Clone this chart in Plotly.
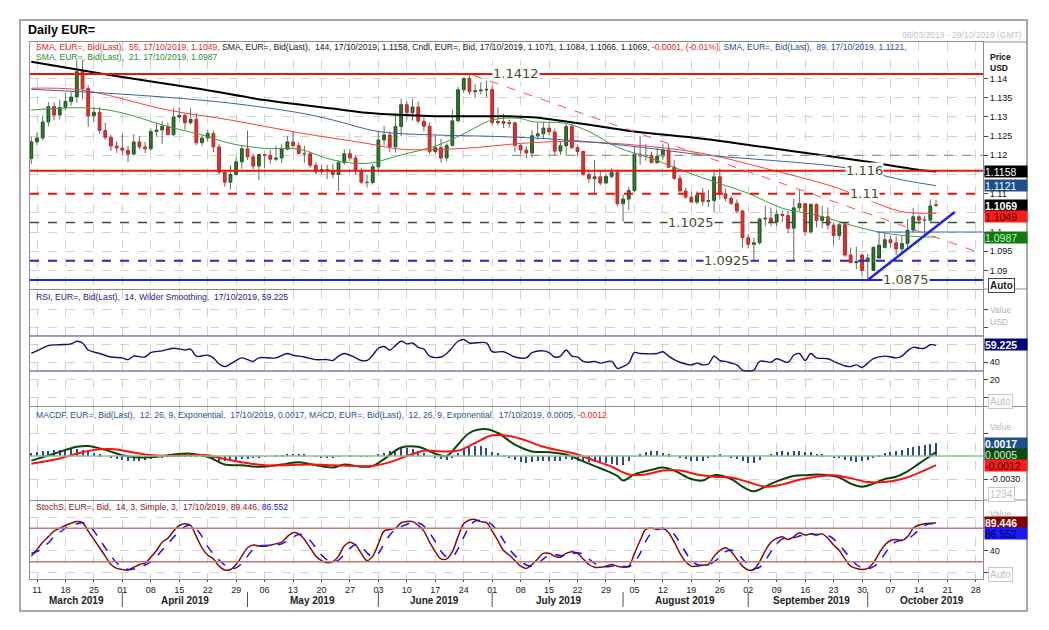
import pandas as pd
import plotly.graph_objects as go
from plotly.subplots import make_subplots

# ---------------- data ----------------
axis_days = pd.bdate_range("2019-03-08", "2019-10-29")
n_days = 160
dates = list(axis_days[:n_days])

open_ = [1.1192,1.1235,1.1245,1.1287,1.1327,1.1305,1.1325,1.1340,1.1352,1.1418,
         1.1374,1.1303,1.1312,1.1265,1.1247,1.1224,1.1219,1.1213,1.1203,1.1235,
         1.1222,1.1217,1.1262,1.1266,1.1275,1.1254,1.1300,1.1304,1.1285,1.1294,
         1.1233,1.1245,1.1257,1.1222,1.1156,1.1130,1.1150,1.1183,1.1217,1.1196,
         1.1172,1.1202,1.1200,1.1190,1.1193,1.1216,1.1235,1.1225,1.1205,1.1204,
         1.1174,1.1157,1.1163,1.1160,1.1150,1.1181,1.1204,1.1193,1.1160,1.1130,
         1.1129,1.1170,1.1240,1.1253,1.1222,1.1275,1.1332,1.1311,1.1326,1.1289,
         1.1276,1.1210,1.1220,1.1193,1.1226,1.1290,1.1371,1.1400,1.1366,1.1368,
         1.1370,1.1372,1.1285,1.1288,1.1283,1.1285,1.1226,1.1214,1.1206,1.1251,
         1.1256,1.1271,1.1261,1.1211,1.1225,1.1275,1.1220,1.1210,1.1150,1.1139,
         1.1144,1.1128,1.1145,1.1155,1.1074,1.1086,1.1108,1.1203,1.1198,1.1200,
         1.1181,1.1198,1.1214,1.1169,1.1140,1.1107,1.1091,1.1078,1.1096,1.1080,
         1.1082,1.1144,1.1100,1.1088,1.1075,1.1055,1.0985,1.0968,1.0972,1.1034,
         1.1036,1.1026,1.1046,1.1043,1.1010,1.1063,1.1074,1.1001,1.1072,1.1030,
         1.1040,1.1018,1.0991,1.1019,1.0940,1.0920,1.0940,1.0923,1.0900,1.0932,
         1.0960,1.0980,1.0972,1.0956,1.0970,1.1005,1.1040,1.1031,1.1031,1.1071]
high = [1.1248,1.1259,1.1304,1.1339,1.1338,1.1345,1.1362,1.1366,1.1448,1.1448,
        1.1383,1.1327,1.1326,1.1285,1.1254,1.1237,1.1255,1.1225,1.1255,1.1250,
        1.1235,1.1270,1.1285,1.1289,1.1285,1.1324,1.1325,1.1309,1.1323,1.1310,
        1.1252,1.1267,1.1265,1.1230,1.1162,1.1174,1.1195,1.1225,1.1265,1.1205,
        1.1200,1.1205,1.1214,1.1225,1.1228,1.1251,1.1264,1.1235,1.1225,1.1210,
        1.1183,1.1175,1.1175,1.1178,1.1187,1.1215,1.1216,1.1200,1.1168,1.1150,
        1.1177,1.1264,1.1277,1.1262,1.1309,1.1348,1.1340,1.1347,1.1340,1.1300,
        1.1285,1.1252,1.1243,1.1231,1.1319,1.1378,1.1403,1.1412,1.1385,1.1391,
        1.1394,1.1381,1.1325,1.1309,1.1293,1.1287,1.1230,1.1224,1.1266,1.1285,
        1.1287,1.1286,1.1270,1.1236,1.1282,1.1282,1.1228,1.1213,1.1163,1.1188,
        1.1160,1.1150,1.1167,1.1162,1.1098,1.1118,1.1224,1.1250,1.1230,1.1210,
        1.1222,1.1230,1.1230,1.1188,1.1148,1.1116,1.1105,1.1106,1.1115,1.1110,
        1.1162,1.1165,1.1113,1.1094,1.1085,1.1058,1.0995,1.0985,1.1038,1.1068,
        1.1064,1.1058,1.1055,1.1055,1.1087,1.1109,1.1074,1.1075,1.1075,1.1068,
        1.1064,1.1025,1.1025,1.1025,1.0960,1.0962,1.0945,1.0943,1.0963,1.0998,
        1.0999,1.0990,1.0989,1.0990,1.1034,1.1063,1.1045,1.1043,1.1085,1.1084]
low = [1.1177,1.1226,1.1240,1.1275,1.1291,1.1294,1.1318,1.1330,1.1337,1.1346,
       1.1274,1.1287,1.1256,1.1240,1.1212,1.1206,1.1202,1.1183,1.1200,1.1215,
       1.1205,1.1212,1.1248,1.1230,1.1253,1.1250,1.1296,1.1267,1.1280,1.1226,
       1.1225,1.1235,1.1208,1.1150,1.1118,1.1111,1.1148,1.1165,1.1188,1.1163,
       1.1136,1.1167,1.1177,1.1185,1.1180,1.1213,1.1220,1.1201,1.1180,1.1168,
       1.1150,1.1150,1.1138,1.1140,1.1107,1.1175,1.1185,1.1150,1.1125,1.1116,
       1.1124,1.1162,1.1226,1.1209,1.1207,1.1250,1.1293,1.1290,1.1283,1.1262,
       1.1203,1.1204,1.1181,1.1184,1.1223,1.1286,1.1362,1.1358,1.1349,1.1358,
       1.1352,1.1277,1.1278,1.1271,1.1272,1.1208,1.1203,1.1193,1.1194,1.1241,
       1.1244,1.1253,1.1200,1.1201,1.1202,1.1216,1.1200,1.1147,1.1127,1.1101,
       1.1122,1.1124,1.1140,1.1067,1.1027,1.1058,1.1104,1.1175,1.1186,1.1179,
       1.1177,1.1188,1.1166,1.1136,1.1103,1.1087,1.1077,1.1072,1.1069,1.1065,
       1.1051,1.1085,1.1080,1.1070,1.1048,1.0960,1.0958,1.0926,1.0967,1.1015,
       1.1015,1.1015,1.1025,1.0997,1.0927,1.1055,1.0990,1.0995,1.1012,1.1010,
       1.1007,1.0965,1.0980,1.0935,1.0920,1.0903,1.0885,1.0879,1.0920,1.0939,
       1.0957,1.0960,1.0940,1.0944,1.0960,1.1000,1.1020,1.0993,1.1027,1.1066]
close = [1.1235,1.1245,1.1287,1.1327,1.1305,1.1325,1.1340,1.1352,1.1418,1.1374,
         1.1303,1.1312,1.1265,1.1247,1.1224,1.1219,1.1213,1.1203,1.1235,1.1222,
         1.1217,1.1262,1.1266,1.1275,1.1254,1.1300,1.1304,1.1285,1.1294,1.1233,
         1.1245,1.1257,1.1222,1.1156,1.1130,1.1150,1.1183,1.1217,1.1196,1.1172,
         1.1202,1.1200,1.1190,1.1193,1.1216,1.1235,1.1225,1.1205,1.1204,1.1174,
         1.1157,1.1163,1.1160,1.1150,1.1181,1.1204,1.1193,1.1160,1.1130,1.1129,
         1.1170,1.1240,1.1253,1.1222,1.1275,1.1332,1.1311,1.1326,1.1289,1.1276,
         1.1210,1.1220,1.1193,1.1226,1.1290,1.1371,1.1400,1.1366,1.1368,1.1370,
         1.1372,1.1285,1.1288,1.1283,1.1285,1.1226,1.1214,1.1206,1.1251,1.1256,
         1.1271,1.1261,1.1211,1.1225,1.1275,1.1220,1.1210,1.1150,1.1139,1.1144,
         1.1128,1.1145,1.1155,1.1074,1.1086,1.1108,1.1203,1.1198,1.1200,1.1181,
         1.1198,1.1214,1.1169,1.1140,1.1107,1.1091,1.1078,1.1096,1.1080,1.1082,
         1.1144,1.1100,1.1088,1.1075,1.1055,1.0985,1.0968,1.0972,1.1034,1.1036,
         1.1026,1.1046,1.1043,1.1010,1.1063,1.1074,1.1001,1.1072,1.1030,1.1040,
         1.1018,1.0991,1.1019,1.0940,1.0920,1.0923,1.0900,1.0932,1.0960,1.0966,
         1.0980,1.0972,1.0956,1.0970,1.1005,1.1040,1.1031,1.1031,1.1068,1.1069]

# moving averages (trading-day index, value)
sma21_idx = [0,9,15,24,30,35,41,47,53,59,65,71,76,81,86,88,94,98,103,109,115,120,126,132,138,144,150,156,159]
sma21_val = [1.1318,1.1324,1.1314,1.1275,1.1253,1.1231,1.1218,1.1216,1.1188,1.1179,1.1201,1.1224,1.1256,1.1292,1.1296,
             1.1288,1.1283,1.1262,1.1221,1.1192,1.1157,1.1131,1.1101,1.1062,1.1044,1.1018,1.0997,1.0988,1.0987]
sma55_idx = [0,9,24,35,47,59,65,76,86,94,106,118,129,141,147,153,159]
sma55_val = [1.1375,1.1370,1.1318,1.1292,1.1259,1.1231,1.1216,1.1218,1.1231,1.1236,1.1227,1.1205,1.1166,1.1118,1.1084,1.1053,1.1049]
sma89_idx = [0,12,24,35,47,53,61,71,82,94,106,118,129,141,147,153,159]
sma89_val = [1.1372,1.1363,1.1351,1.1336,1.1311,1.1292,1.1262,1.1253,1.1249,1.1240,1.1223,1.1201,1.1188,1.1172,1.1157,1.1136,1.1121]
sma144_idx = [0,14,30,41,53,59,71,82,88,100,106,118,129,141,147,156,159]
sma144_val = [1.1444,1.1409,1.1372,1.1344,1.1322,1.1311,1.1302,1.1302,1.1299,1.1275,1.1262,1.1243,1.1221,1.1196,1.1183,1.1162,1.1158]

# RSI (14, Wilder)
rsi_idx = [0,2,3,5,7,8,9,10,12,14,16,17,18,20,21,23,25,27,28,29,31,32,33,34,35,37,38,39,40,43,45,46,48,50,52,53,54,55,57,58,59,60,
           61,62,63,64,65,66,67,68,69,70,72,73,74,75,76,77,80,81,83,85,87,88,90,91,92,93,94,95,96,97,98,99,100,102,103,104,105,
           106,107,110,111,112,113,114,115,116,117,118,119,120,121,122,123,124,125,126,127,128,130,131,133,134,135,136,137,138,
           140,141,143,144,145,146,147,148,150,152,153,154,155,156,157,158,159]
rsi_val = [50,56,59,60,61,64,62,54,50,46,45,43,47,46,51,53,56,54,55,47,48,45,38,35,38,45,43,41,45,45,50,48,46,43,43,42,47,50,45,42,42,48,
           56,58,54,59,64,61,62,57,55,47,46,50,57,64,66,62,62,52,52,46,45,51,53,51,46,47,54,47,46,41,40,41,39,41,33,35,39,
           51,50,50,52,47,43,40,38,37,39,37,38,47,42,41,39,37,31,30,31,41,40,44,40,48,50,42,50,45,
           44,41,36,35,37,34,39,44,47,45,47,53,57,56,56,60,59.225]

# MACD (12, 26, 9)
macd_idx = [0,4,8,10,13,16,19,22,25,28,31,34,37,40,44,47,50,53,55,58,60,62,65,68,71,73,75,77,80,82,85,88,91,94,97,100,103,104,106,
            109,111,113,116,118,120,123,125,127,129,131,134,136,138,140,142,144,146,148,150,152,154,156,158,159]
macd_val = [-0.0006,0.0003,0.0012,0.0013,0.0008,0.0001,-0.0002,-0.0001,0.0002,0.0003,-0.0001,-0.0011,-0.0012,-0.0014,-0.0011,-0.0008,
            -0.0012,-0.0015,-0.0011,-0.0014,-0.0013,-0.0004,0.0011,0.0012,0.0003,0.0000,0.0015,0.0030,0.0035,0.0030,0.0015,0.0006,0.0005,
            0.0002,-0.0007,-0.0016,-0.0026,-0.0032,-0.0024,-0.0018,-0.0015,-0.0019,-0.0030,-0.0032,-0.0025,-0.0030,-0.0040,-0.0046,-0.0040,
            -0.0033,-0.0026,-0.0025,-0.0024,-0.0025,-0.0028,-0.0036,-0.0040,-0.0036,-0.0030,-0.0027,-0.0020,-0.0010,0.0000,0.0005]
signal_idx = [0,4,8,11,14,17,20,24,28,31,34,37,41,45,49,53,57,60,63,66,69,72,75,78,81,84,87,90,93,96,99,102,105,108,111,114,117,
              120,123,126,129,132,135,138,141,144,147,150,153,156,159]
signal_val = [-0.0010,-0.0005,0.0003,0.0008,0.0009,0.0006,0.0002,0.0000,0.0001,0.0001,-0.0004,-0.0008,-0.0012,-0.0012,-0.0011,-0.0012,
              -0.0013,-0.0013,-0.0008,0.0000,0.0007,0.0006,0.0007,0.0017,0.0027,0.0026,0.0020,0.0012,0.0007,0.0002,-0.0006,-0.0014,
              -0.0024,-0.0024,-0.0019,-0.0019,-0.0024,-0.0027,-0.0028,-0.0034,-0.0040,-0.0037,-0.0031,-0.0027,-0.0025,-0.0029,-0.0034,
              -0.0034,-0.0030,-0.0022,-0.0012]
macd_hist = [0.0004,0.0005,0.0006,0.0007,0.0008,0.0008,0.0008,0.0009,0.0009,0.0008,
             0.0006,0.0004,0.0002,0.0000,-0.0002,-0.0004,-0.0005,-0.0006,-0.0007,-0.0006,
             -0.0005,-0.0004,-0.0003,-0.0002,-0.0001,0.0002,0.0002,0.0002,0.0002,0.0001,
             -0.0001,-0.0002,-0.0004,-0.0006,-0.0007,-0.0006,-0.0005,-0.0004,-0.0004,-0.0003,
             -0.0002,-0.0001,0.0000,0.0001,0.0001,0.0003,0.0003,0.0003,0.0002,0.0000,
             -0.0001,-0.0002,-0.0003,-0.0003,-0.0001,0.0000,0.0001,0.0000,-0.0001,-0.0001,
             0.0000,0.0003,0.0004,0.0006,0.0008,0.0010,0.0010,0.0009,0.0007,0.0004,
             0.0000,-0.0003,-0.0004,-0.0005,-0.0002,0.0004,0.0009,0.0012,0.0013,0.0013,
             0.0011,0.0005,0.0004,0.0001,-0.0002,-0.0005,-0.0008,-0.0009,-0.0008,-0.0007,
             -0.0006,-0.0006,-0.0007,-0.0006,-0.0004,-0.0005,-0.0006,-0.0007,-0.0008,-0.0008,
             -0.0009,-0.0009,-0.0010,-0.0012,-0.0012,-0.0006,-0.0001,0.0002,0.0005,0.0006,
             0.0006,0.0004,0.0002,0.0000,-0.0002,-0.0004,-0.0006,-0.0007,-0.0006,-0.0003,
             0.0001,0.0002,0.0000,-0.0002,-0.0004,-0.0007,-0.0009,-0.0009,-0.0005,0.0000,
             0.0003,0.0005,0.0006,0.0005,0.0006,0.0007,0.0005,0.0005,0.0003,0.0002,
             0.0000,-0.0002,-0.0003,-0.0005,-0.0007,-0.0008,-0.0007,-0.0005,-0.0002,0.0001,
             0.0004,0.0005,0.0006,0.0008,0.0010,0.0012,0.0013,0.0014,0.0016,0.0017]

# Slow stochastic (14, 3, 3)
stoch_k = [30,42,55,65,75,80,85,89,92,90, 75,60,45,30,15,8,6,5,10,15, 18,28,40,55,62,75,85,88,85,65,
           45,32,25,12,5,6,15,30,45,50, 48,48,50,52,55,65,72,70,60,45, 30,22,18,20,30,48,55,50,35,22,
           30,52,75,78,80,90,92,92,85,75, 55,38,25,25,38,65,88,95,96,92, 90,75,58,40,32,22,12,8,15,25,
           35,35,30,28,35,38,35,25,15,10, 10,12,15,12,10,12,35,58,78,80, 78,80,72,55,35,20,12,12,14,15,
           30,40,45,38,25,12,5,6,20,40, 55,62,65,60,65,72,68,70,68,70, 62,50,40,25,12,8,6,8,18,35,
           50,58,60,58,65,80,86,88,89,89.446]
stoch_d = [35,38,45,54,65,73,80,85,88,90, 86,75,60,45,30,18,10,6,7,10, 14,20,29,41,52,64,74,83,86,79,
           65,47,34,23,14,8,9,17,30,42, 48,49,49,50,52,57,64,69,67,58, 45,32,23,20,23,33,44,51,47,36,
           29,35,52,68,78,83,87,91,90,84, 72,56,39,29,29,43,64,83,93,94, 93,86,74,58,43,31,22,14,12,16,
           25,32,33,31,31,34,36,33,25,17, 12,11,12,13,12,11,19,35,57,72, 79,79,77,69,54,37,22,15,13,14,
           20,28,38,41,36,25,14,8,10,22, 38,52,61,62,63,66,68,70,69,69, 67,61,51,38,26,15,9,7,11,20,
           34,48,56,59,61,68,77,85,88,86.552]

day_labels = ["11","18","25","01","08","15","22","29","06","13","20","27","03","10","17","24","01",
              "08","15","22","29","05","12","19","26","02","09","16","23","30","07","14","21","28"]
month_labels = ["March 2019","April 2019","May 2019","June 2019","July 2019","August 2019","September 2019","October 2019"]
price_ticks = [1.09,1.095,1.10,1.105,1.11,1.115,1.12,1.125,1.13,1.135,1.14]
price_ticktext = ["1.09","1.095","1.1","","1.11","","1.12","1.125","1.13","1.135","1.14"]

# ---------------- geometry helpers ----------------
W, H = 1049, 630
ML, MR, MT, MB = 30, 66, 42, 51
PW, PH = W - ML - MR, H - MT - MB
def fy(py):  # pixel y -> paper
    return (H - MB - py) / PH
def fx(px):  # pixel x -> paper
    return (px - ML) / PW

x = list(range(n_days))
mondays = [i for i, d in enumerate(axis_days) if d.weekday() == 0]
month_start = [i for i in range(1, len(axis_days)) if axis_days[i].month != axis_days[i - 1].month]
month_pos = [8.0, 27.0, 49.5, 70.8, 92.6, 114.9, 137.2, 158.3]
XR = [-0.23, 167.26]

FONT = "Liberation Sans, Arial, sans-serif"
NARROW = "Liberation Sans Narrow, Liberation Sans, Arial, sans-serif"
HDR = 8.6

fig = make_subplots(rows=4, cols=1, shared_xaxes=True, vertical_spacing=0.0)

# wicks
wx, wy = [], []
for i in x:
    wx += [i, i, None]
    wy += [low[i], high[i], None]
fig.add_trace(go.Scatter(x=wx, y=wy, mode="lines", line=dict(color="#6a6a6a", width=1),
                         hoverinfo="skip", showlegend=False), row=1, col=1)
body_hi = [max(o, c) for o, c in zip(open_, close)]
body_lo = [min(o, c) for o, c in zip(open_, close)]
fig.add_trace(go.Candlestick(x=x, open=open_, high=body_hi, low=body_lo, close=close,
                             increasing=dict(line=dict(color="#0c5c0c", width=1), fillcolor="#0c6a0c"),
                             decreasing=dict(line=dict(color="#f01010", width=1), fillcolor="#ff1414"),
                             whiskerwidth=0, showlegend=False), row=1, col=1)
fig.add_trace(go.Scatter(x=sma21_idx, y=sma21_val, mode="lines", line=dict(color="#3c9c3c", width=1, shape="spline"), showlegend=False), row=1, col=1)
fig.add_trace(go.Scatter(x=sma55_idx, y=sma55_val, mode="lines", line=dict(color="#ff3c3c", width=1, shape="spline"), showlegend=False), row=1, col=1)
fig.add_trace(go.Scatter(x=sma89_idx, y=sma89_val, mode="lines", line=dict(color="#3a64a0", width=1, shape="spline"), showlegend=False), row=1, col=1)
fig.add_trace(go.Scatter(x=sma144_idx, y=sma144_val, mode="lines", line=dict(color="#000000", width=2, shape="spline"), showlegend=False), row=1, col=1)

fig.add_trace(go.Scatter(x=rsi_idx, y=rsi_val, mode="lines", line=dict(color="#10107a", width=1.4, shape="spline"), showlegend=False), row=2, col=1)

fig.add_trace(go.Bar(x=x, y=macd_hist, width=0.18, marker=dict(color="#2a4a90", line=dict(width=0)), showlegend=False), row=3, col=1)
fig.add_trace(go.Scatter(x=macd_idx, y=macd_val, mode="lines", line=dict(color="#0a460a", width=2, shape="spline"), showlegend=False), row=3, col=1)
fig.add_trace(go.Scatter(x=signal_idx, y=signal_val, mode="lines", line=dict(color="#ff1010", width=2, shape="spline"), showlegend=False), row=3, col=1)

fig.add_trace(go.Scatter(x=x, y=stoch_k, mode="lines", line=dict(color="#8a0a0a", width=1.5, shape="spline"), showlegend=False), row=4, col=1)
fig.add_trace(go.Scatter(x=x, y=stoch_d, mode="lines", line=dict(color="#1010ff", width=1.5, dash="dash", shape="spline"), showlegend=False), row=4, col=1)

grid = dict(showgrid=True, gridcolor="#d2d2d2", griddash="dash", gridwidth=1)
frame = dict(showline=True, linecolor="#8c8c8c", linewidth=1, mirror=True, zeroline=False)
for k in range(1, 5):
    ax = dict(range=XR, tickmode="array", tickvals=mondays, ticktext=day_labels,
              showticklabels=(k == 4), ticks="outside" if k == 4 else "", ticklen=2, tickcolor="#444",
              tickfont=dict(family=NARROW, size=9, color="#222"),
              rangeslider=dict(visible=False), **grid, **frame)
    fig.update_layout(**{("xaxis" if k == 1 else f"xaxis{k}"): ax})

yc = dict(side="right", ticks="outside", ticklen=4, tickcolor="#444",
          tickfont=dict(family=FONT, size=9, color="#111"), **grid, **frame)
fig.update_layout(
    yaxis=dict(domain=[fy(288.5), 1.0], range=[1.08528, 1.14954], tickmode="array",
               tickvals=price_ticks, ticktext=price_ticktext, **yc),
    yaxis2=dict(domain=[fy(406), fy(289.5)], range=[-10, 123.1], tickmode="array",
                tickvals=[0, 20, 40, 60, 80, 100], ticktext=["", "20", "40", "", "", ""], **yc),
    yaxis3=dict(domain=[fy(499.5), fy(407)], range=[-0.00567, 0.00639], tickmode="array",
                tickvals=[-0.003, 0.003], ticktext=["-0.0030", ""], **yc),
    yaxis4=dict(domain=[0, fy(500.5)], range=[-11.06, 129.9], tickmode="array",
                tickvals=[0, 40, 100], ticktext=["", "40", ""], **yc),
)

shapes = []
def hline(yv, yref, color, width, dash="solid", x0=XR[0], x1=XR[1], xref="x"):
    shapes.append(dict(type="line", xref=xref, yref=yref, x0=x0, x1=x1, y0=yv, y1=yv,
                       line=dict(color=color, width=width, dash=dash)))
hline(1.1412, "y", "#f01010", 2)
hline(1.116, "y", "#f01010", 2)
hline(1.11, "y", "#f01010", 2, "dash")
hline(1.12, "y", "#8c9a80", 1.3, "dash", x0=84.5)
hline(1.1025, "y", "#2e5a2e", 1.5, "dash")
hline(1.0925, "y", "#2424d8", 2, "dash")
hline(1.0875, "y", "#2424e0", 2)
hline(1.1, "y", "#3a5cff", 1, x0=148.6)
shapes.append(dict(type="line", xref="x", yref="y", x0=147, y0=1.0875, x1=162.3, y1=1.1052,
                   line=dict(color="#2020e8", width=2.5)))
shapes.append(dict(type="line", xref="x", yref="y", x0=77.6, y0=1.1409, x1=166.9, y1=1.0945,
                   line=dict(color="#ff5050", width=1, dash="dash")))
hline(70, "y2", "#3a3a8a", 1)
hline(30, "y2", "#3a3a8a", 1)
hline(0, "y3", "#90c090", 1.5, xref="x3")
hline(80, "y4", "#c07a7a", 1.5, xref="x4")
hline(20, "y4", "#c07a7a", 1.5, xref="x4")
# month separators
for ms in month_start:
    shapes.append(dict(type="line", xref="x4", yref="paper", x0=ms, x1=ms, y0=fy(592), y1=fy(607),
                       line=dict(color="#555", width=1)))
# outer frame and right-side extensions
shapes.append(dict(type="rect", xref="paper", yref="paper", x0=fx(20), x1=fx(1027), y0=fy(611), y1=fy(20),
                   line=dict(color="#a8a8a8", width=2)))
for py in [42, 289, 406.5, 500]:
    shapes.append(dict(type="line", xref="paper", yref="paper", x0=1.0, x1=fx(1027), y0=fy(py), y1=fy(py),
                       line=dict(color="#8c8c8c", width=1)))
fig.update_layout(shapes=shapes)

ann = []
def txt(px, py, s, size=10, color="#000", anchor="left", family=FONT, bg=None, **kw):
    d = dict(xref="paper", yref="paper", x=fx(px), y=fy(py), text=s, showarrow=False,
             xanchor=anchor, yanchor="middle", font=dict(family=family, size=size, color=color))
    if bg:
        d.update(bgcolor=bg)
    d.update(kw)
    ann.append(d)

txt(26, 30, "<b>Daily EUR=</b>", size=12.5, color="#000")
txt(1024, 35, "08/03/2019 - 29/10/2019 (GMT)", size=8.5, color="#c4c4c4", anchor="right")
hdr1 = ('<span style="color:#ee1c1c">SMA, EUR=, Bid(Last),  55, 17/10/2019, 1.1049, </span>'
        '<span style="color:#222222">SMA, EUR=, Bid(Last),  144, 17/10/2019, 1.1158, Cndl, EUR=, Bid, 17/10/2019, 1.1071, 1.1084, 1.1066, 1.1069, </span>'
        '<span style="color:#ee1c1c">-0.0001, (-0.01%), </span>'
        '<span style="color:#2a509c">SMA, EUR=, Bid(Last),  89, 17/10/2019, 1.1121,</span>')
txt(34, 47, hdr1, size=HDR)
txt(34, 57, "SMA, EUR=, Bid(Last),  21, 17/10/2019, 1.0987", size=HDR, color="#2e8b2e")
txt(34, 297, "RSI, EUR=, Bid(Last),  14, Wilder Smoothing,  17/10/2019, 59.225", size=HDR, color="#1c1c8c")
txt(34, 415, 'MACDF, EUR=, Bid(Last),  12, 26, 9, Exponential,  17/10/2019, 0.0017, MACD, EUR=, Bid(Last),  12, 26, 9, Exponential,  17/10/2019, 0.0005, '
             '<span style="color:#ee1c1c">-0.0012</span>', size=HDR, color="#2a509c")
txt(34, 507, 'StochS, EUR=, Bid,  14, 3, Simple, 3,  17/10/2019, 89.446, <span style="color:#2020ff">86.552</span>',
    size=HDR, color="#8a1a1a")

# level labels
def lvl(xi, yv, s):
    ann.append(dict(xref="x", yref="y", x=xi, y=yv, text=s, showarrow=False, bgcolor="#ffffff",
                    xanchor="center", yanchor="middle", borderpad=0,
                    font=dict(family="DejaVu Sans, sans-serif", size=13, color="#4a4a30")))
lvl(85.2, 1.1412, "1.1412")
lvl(146.5, 1.116, "1.116")
lvl(146.4, 1.11, "1.11")
lvl(116.0, 1.1025, "1.1025")
lvl(122.3, 1.0925, "1.0925")
lvl(153.7, 1.0875, "1.0875")

# right-side axis captions and value boxes
txt(988, 57, "<b>Price</b>", size=8.5, color="#111")
txt(988, 68, "<b>USD</b>", size=8.5, color="#111")
txt(988, 310, "Value", size=8.5, color="#b4b4b4")
txt(988, 322, "USD", size=8.5, color="#b4b4b4")
txt(988, 427, "Value", size=8.5, color="#b4b4b4")
txt(988, 514, "Value", size=8.5, color="#b4b4b4")

def box(py, s, bg, fc, bold=False):
    t = f"<b>{s}</b>" if bold else s
    ann.append(dict(xref="paper", yref="paper", x=fx(984), y=fy(py), text=t, showarrow=False,
                    xanchor="left", yanchor="middle", align="left", width=42, height=11, borderpad=0,
                    bgcolor=bg, font=dict(family=FONT, size=10.5, color=fc)))
box(171.4, "1.1158", "#000000", "#ffffff")
box(185.6, "1.1121", "#1f4e8c", "#ffffff")
box(205.6, "1.1069", "#000000", "#ffffff", bold=True)
box(216.6, "1.1049", "#ff1a1a", "#3a0000")
box(237.0, "1.0987", "#107a10", "#c8f0c8")
box(344.0, "59.225", "#000080", "#ffffff", bold=True)
box(443.3, "0.0017", "#1f4e8c", "#ffffff", bold=True)
box(454.0, "0.0005", "#0b4a0b", "#d8f0d8")
box(465.5, "-0.0012", "#ff1a1a", "#3a0000")
box(522.7, "89.446", "#800000", "#ffffff", bold=True)
box(533.5, "86.552", "#1a1aff", "#00003a")

def autobox(py, s, dark):
    ann.append(dict(xref="paper", yref="paper", x=fx(988), y=fy(py), text=(f"<b>{s}</b>" if dark else s),
                    showarrow=False, xanchor="left", yanchor="middle", bgcolor="#ffffff",
                    bordercolor=("#444" if dark else "#c8c8c8"), borderwidth=1, borderpad=1,
                    font=dict(family=FONT, size=10, color=("#222" if dark else "#c0c0c0"))))
autobox(285, "Auto", True)
autobox(401, "Auto", False)
autobox(494, "1234", False)
autobox(574, "Auto", False)

for name, pos in zip(month_labels, month_pos):
    ann.append(dict(xref="x4", yref="paper", x=pos, y=fy(600.5), text=f"<b>{name}</b>", showarrow=False,
                    xanchor="center", yanchor="middle", font=dict(family=NARROW, size=10, color="#222")))

fig.update_layout(annotations=ann, width=W, height=H,
                  margin=dict(l=ML, r=MR, t=MT, b=MB, pad=0),
                  paper_bgcolor="#ffffff", plot_bgcolor="#ffffff",
                  showlegend=False, bargap=0, hovermode=False, boxgap=0.3)
fig.write_html("out.html", config={"displayModeBar": False},
               post_script="document.body.style.margin='0px';document.documentElement.style.overflow='hidden';")
